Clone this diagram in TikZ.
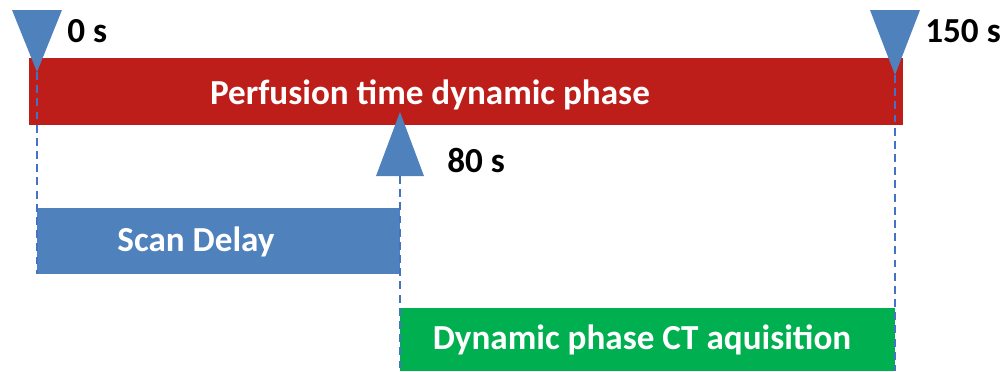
\documentclass[tikz,border=0pt]{standalone}
\usepackage{fontspec}
\setmainfont{Carlito}
\definecolor{barred}{RGB}{190,30,25}
\definecolor{barblue}{RGB}{79,129,189}
\definecolor{bargreen}{RGB}{0,176,80}
\definecolor{dashblue}{RGB}{68,114,196}
\tikzset{
  bartext/.style={text=white,font=\fontsize{20}{24}\selectfont\bfseries},
  timetext/.style={text=black,font=\fontsize{20}{24}\selectfont\bfseries,anchor=west,inner sep=0pt},
  marker/.style={fill=barblue},
  guide/.style={dashblue,line width=0.9pt,dash pattern=on 4.5pt off 3pt}
}
\begin{document}
\begin{tikzpicture}[x=0.2mm,y=-0.2mm]
				\useasboundingbox (0,0) rectangle (1008,371);
				% Bars
				\fill[barred] (29,58) rectangle (903,125);
				\node[bartext] (perf) at (430,95) {Perfusion time dynamic phase};
				\fill[barblue] (37,208) rectangle (400,274);
				\node[bartext] (delay) at (196,242) {Scan Delay};
				\fill[bargreen] (400,308) rectangle (895,371);
				\node[bartext] (acq) at (642,340) {Dynamic phase CT aquisition};
				
				% Time markers
				\coordinate (t0) at (37,72);
				\coordinate (t80) at (400,112);
				\coordinate (t150) at (895,75);
				\fill[marker] (12,10) -- (62,10) -- (t0) -- cycle;
				\fill[marker] (870,10) -- (920,10) -- (t150) -- cycle;
				\fill[marker] (376,176) -- (424,176) -- (t80) -- cycle;
				\node[timetext] (l0) at (67,31) {0 s};
				\node[timetext] (l150) at (925,31) {150 s};
				\node[timetext] (l80) at (447,160) {80 s};
				
				% Guide lines
				\coordinate (d0) at (37,274);
				\coordinate (d80) at (400,176);
				\coordinate (e80) at (400,371);
				\coordinate (e150) at (895,371);
				\draw[guide] (t0) -- (d0);
				\draw[guide] (d80) -- (e80);
				\draw[guide] (t150) -- (e150);
			\end{tikzpicture}
\end{document}
